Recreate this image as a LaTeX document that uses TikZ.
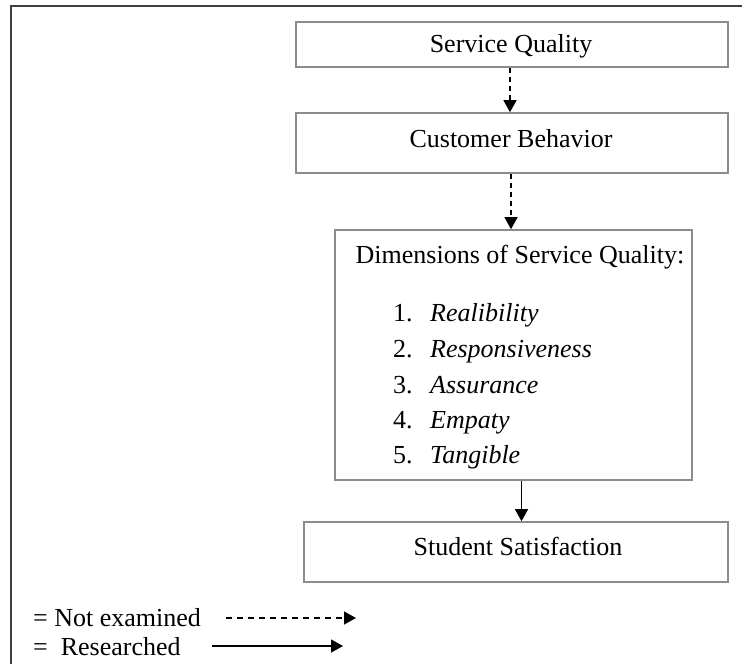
\documentclass[tikz,border=0pt]{standalone}
\usepackage{fontspec}
\setmainfont{Liberation Serif}
\usetikzlibrary{arrows.meta}
\begin{document}
\begin{tikzpicture}[x=1pt,y=-1pt,
  box/.style={draw=black!45,line width=1.6pt,rectangle,inner sep=0pt},
  txt/.style={inner sep=0pt,font=\fontsize{26}{30}\selectfont,text height=18pt,text depth=6pt},
  frame/.style={draw=black!75,line width=2.2pt},
  tip/.style={-{Triangle[length=12pt,width=13pt]},line width=1.3pt,black},
  dsh/.style={tip,dash pattern=on 5pt off 4pt},
  dshl/.style={tip,dash pattern=on 6pt off 5pt}]
\useasboundingbox (0,0) rectangle (742,664);
\draw[frame] (11,664) -- (11,6) -- (742,6);
% boxes
\node[box,minimum width=432pt,minimum height=45pt] (sq) at (512,44.5) {};
\node[box,minimum width=432pt,minimum height=60pt] (cb) at (512,143) {};
\node[box,minimum width=357pt,minimum height=250pt] (dim) at (513.5,355) {};
\node[box,minimum width=424pt,minimum height=60pt] (ss) at (516,552) {};
% texts
\node[txt] (sqt) at (511,46) {Service Quality};
\node[txt] (cbt) at (511,141) {Customer Behavior};
\node[txt] (dimt) at (520,257) {Dimensions of Service Quality:};
\node[txt,anchor=west] (n1) at (393,315) {1.};
\node[txt,anchor=west] (n2) at (393,351) {2.};
\node[txt,anchor=west] (n3) at (393,387) {3.};
\node[txt,anchor=west] (n4) at (393,422) {4.};
\node[txt,anchor=west] (n5) at (393,457) {5.};
\node[txt,anchor=west] (i1) at (430,315) {\itshape Realibility};
\node[txt,anchor=west] (i2) at (430,351) {\itshape Responsiveness};
\node[txt,anchor=west] (i3) at (430,387) {\itshape Assurance};
\node[txt,anchor=west] (i4) at (430,422) {\itshape Empaty};
\node[txt,anchor=west] (i5) at (430,457) {\itshape Tangible};
\node[txt] (sst) at (518,549) {Student Satisfaction};
% arrows
\draw[dsh] ([xshift=-2pt]sq.south) -- ([xshift=-2pt]cb.north);
\draw[dsh] ([xshift=-1pt]cb.south) -- ([xshift=-1pt]cb.south |- dim.north);
\draw[tip] ([xshift=8pt]dim.south) -- ([xshift=8pt]dim.south |- ss.north);
% legend
\node[txt,anchor=west] (l1) at (33,620) {= Not examined};
\node[txt,anchor=west] (l2) at (33,649) {=\ \ Researched};
\coordinate (d1) at (226,618);
\coordinate (d2) at (356,618);
\coordinate (s1) at (212,646);
\coordinate (s2) at (343,646);
\draw[dshl] (d1) -- (d2);
\draw[tip] (s1) -- (s2);
\end{tikzpicture}
\end{document}
